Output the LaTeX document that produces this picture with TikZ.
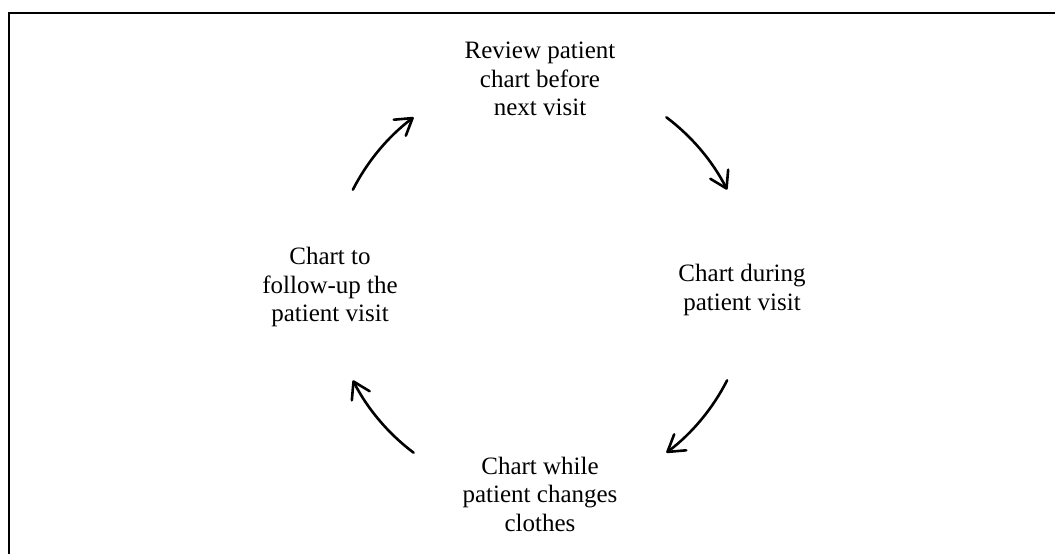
\documentclass[tikz,border=0pt]{standalone}
\usepackage{fontspec}
\setmainfont{Liberation Serif}
\usetikzlibrary{arrows.meta,calc}
\begin{document}
\begin{tikzpicture}[x=1pt,y=-1pt,
  step label/.style={align=center,font=\fontsize{25}{28.5}\selectfont,inner sep=0pt},
  cycle arrow/.style={line width=2.6pt,line cap=round,
    -{Straight Barb[length=16pt,width=20pt,line cap=round,line join=round]}},
  frame/.style={line width=2pt}]
  \useasboundingbox (0,0) rectangle (1055,554);
  % frame (left and top edges)
  \draw[frame] (9,554) -- (9,13) -- (1055,13);
  % cycle steps
  \node[step label] (review) at (540,79) {Review patient\\chart before\\next visit};
  \node[step label] (during) at (742,290) {Chart during\\patient visit};
  \node[step label] (clothes) at (540,494) {Chart while\\patient changes\\clothes};
  \node[step label] (follow) at (330,287) {Chart to\\follow-up the\\patient visit};
  % arrows on a common circle (y axis points down, so angles are negated)
  \coordinate (ctr) at (540,285);
  \draw[cycle arrow] ($(ctr)+(-153:210)$) arc[start angle=-153,end angle=-127,radius=210];
  \draw[cycle arrow] ($(ctr)+(-53:210)$) arc[start angle=-53,end angle=-27,radius=210];
  \draw[cycle arrow] ($(ctr)+(27:210)$) arc[start angle=27,end angle=53,radius=210];
  \draw[cycle arrow] ($(ctr)+(127:210)$) arc[start angle=127,end angle=153,radius=210];
\end{tikzpicture}
\end{document}
